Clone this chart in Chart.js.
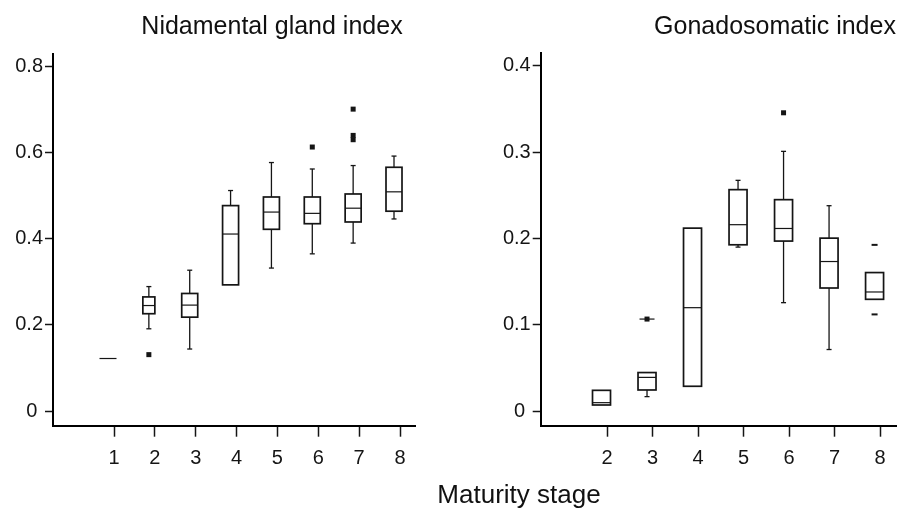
<!DOCTYPE html>
<html>
<head>
<meta charset="utf-8">
<script src="https://cdn.jsdelivr.net/npm/chart.js@4.4.1/dist/chart.umd.min.js"></script>
<style>
  body { margin: 0; background: #fff; }
  #wrap { position: relative; width: 897px; height: 508px; font-family: "Liberation Sans", Arial, sans-serif; color: #111; }
  canvas { position: absolute; top: 0; }
  #ngCanvas { left: 0; width: 450px; height: 508px; }
  #gsiCanvas { left: 450px; width: 447px; height: 508px; }
  .label { position: absolute; font-size: 25px; line-height: 25px; white-space: nowrap; transform: translateX(-50%); }
</style>
</head>
<body>
<div id="wrap">
  <canvas id="ngCanvas" width="450" height="508"></canvas>
  <canvas id="gsiCanvas" width="447" height="508"></canvas>
  <div class="label" style="left:272px; top:13px;">Nidamental gland index</div>
  <div class="label" style="left:775px; top:13px;">Gonadosomatic index</div>
  <div class="label" style="left:519px; top:482px; font-size:26px;">Maturity stage</div>
</div>
<script>
// Nidamental gland index per maturity stage (null = no whisker)
const ngStages = [1, 2, 3, 4, 5, 6, 7, 8];
const ngLow    = [null, 0.191, 0.144, null, 0.332, 0.365, 0.390, 0.446];
const ngQ1     = [0.122, 0.226, 0.218, 0.293, 0.422, 0.435, 0.439, 0.464];
const ngMedian = [0.122, 0.245, 0.246, 0.411, 0.462, 0.459, 0.471, 0.509];
const ngQ3     = [0.122, 0.265, 0.273, 0.477, 0.497, 0.497, 0.504, 0.566];
const ngHigh   = [null, 0.289, 0.327, 0.512, 0.577, 0.562, 0.570, 0.592];
const ngOutliers = [[], [0.131], [], [], [], [0.613], [0.701, 0.640, 0.630], []];
const ngTicks  = [0, 0.2, 0.4, 0.6, 0.8];

// Gonadosomatic index per maturity stage
const gsiStages = [2, 3, 4, 5, 6, 7, 8];
const gsiLow    = [null, 0.0167, null, 0.190, 0.1256, 0.0713, null];
const gsiQ1     = [0.007, 0.0244, 0.0287, 0.1927, 0.197, 0.1426, 0.1295];
const gsiMedian = [0.0097, 0.039, 0.1198, 0.216, 0.2116, 0.1733, 0.138];
const gsiQ3     = [0.024, 0.0446, 0.212, 0.2566, 0.245, 0.2004, 0.1605];
const gsiHigh   = [null, null, null, 0.2674, 0.301, 0.238, null];
const gsiOutliers = [[], [0.1066], [], [], [0.3457], [], [0.1926, 0.112]];
const gsiTicks  = [0, 0.1, 0.2, 0.3, 0.4];

const FONT = '"Liberation Sans", Arial, sans-serif';
const INK = '#151515';

// draws box, whiskers, median and outliers for each stage using the chart scales
function boxPlotPlugin(series, style) {
  return {
    id: 'boxPlot',
    afterDatasetsDraw(chart) {
      const { ctx } = chart;
      const xs = chart.scales.x, ys = chart.scales.y;
      const line = (x1, y1, x2, y2) => {
        ctx.beginPath(); ctx.moveTo(x1, y1); ctx.lineTo(x2, y2); ctx.stroke();
      };
      ctx.save();
      ctx.strokeStyle = INK;
      ctx.fillStyle = INK;
      series.stages.forEach((stage, i) => {
        const width = (style.widths && style.widths[stage]) || style.boxWidth;
        const half = width / 2;
        const cx = xs.getPixelForValue(stage) + style.shift;
        const q1 = ys.getPixelForValue(series.q1[i]);
        const q3 = ys.getPixelForValue(series.q3[i]);
        const med = ys.getPixelForValue(series.median[i]);

        ctx.lineWidth = 1.3;
        if (series.low[i] != null) {
          const lo = ys.getPixelForValue(series.low[i]);
          line(cx, q1, cx, lo);
          line(cx - 2.5, lo, cx + 2.5, lo);
        }
        if (series.high[i] != null) {
          const hi = ys.getPixelForValue(series.high[i]);
          line(cx, q3, cx, hi);
          line(cx - 2.5, hi, cx + 2.5, hi);
        }

        if (q1 - q3 > 0.5) {
          ctx.lineWidth = 1.7;
          ctx.strokeRect(cx - half, q3, width, q1 - q3);
        }
        ctx.lineWidth = 1.2;
        line(cx - half, med, cx + half, med);

        const marker = (style.markers && style.markers[stage]) || 'square';
        series.outliers[i].forEach(v => {
          const py = ys.getPixelForValue(v);
          if (marker === 'dash') {
            ctx.lineWidth = 2;
            line(cx - 3, py, cx + 3, py);
            return;
          }
          if (marker === 'squareDash') {
            ctx.lineWidth = 1.2;
            line(cx - 7.5, py, cx + 7.5, py);
          }
          ctx.fillRect(cx - 2.5, py - 2.5, 5, 5);
        });
      });
      ctx.restore();
    }
  };
}

function makePanel(canvasId, series, yTicks, yMin, yMax, xMin, xMax, padding, yWidth, style) {
  return new Chart(document.getElementById(canvasId), {
    type: 'scatter',
    data: { datasets: [] },
    options: {
      responsive: false,
      animation: false,
      devicePixelRatio: 1,
      layout: { padding: padding },
      plugins: { legend: { display: false }, tooltip: { enabled: false } },
      scales: {
        x: {
          type: 'linear',
          min: xMin,
          max: xMax,
          afterBuildTicks: s => { s.ticks = series.stages.map(v => ({ value: v })); },
          afterFit: s => { s.height = 508 - 425.7 - padding.bottom; },
          grid: { drawOnChartArea: false, tickLength: 11, tickColor: INK, tickWidth: 1.5 },
          border: { display: true, color: '#000', width: 2 },
          ticks: { autoSkip: false, maxRotation: 0, padding: 10, color: INK,
                   font: { family: FONT, size: 20 }, callback: v => String(v) }
        },
        y: {
          type: 'linear',
          min: yMin,
          max: yMax,
          afterBuildTicks: s => { s.ticks = yTicks.map(v => ({ value: v })); },
          afterFit: s => { s.width = yWidth; },
          grid: { drawOnChartArea: false, tickLength: 8, tickColor: INK, tickWidth: 1.5 },
          border: { display: true, color: '#000', width: 2 },
          ticks: { padding: 2, color: INK, font: { family: FONT, size: 20 },
                   callback: v => v === 0 ? '0 ' : v.toFixed(1) }
        }
      }
    },
    plugins: [boxPlotPlugin(series, style)]
  });
}

makePanel('ngCanvas',
  { stages: ngStages, low: ngLow, q1: ngQ1, median: ngMedian, q3: ngQ3, high: ngHigh, outliers: ngOutliers },
  ngTicks, -0.034, 0.829, -0.493, 8.367,
  { left: 0, right: 35, top: 54, bottom: 0 }, 53,
  { boxWidth: 16, shift: -6, widths: { 1: 17, 2: 12 } });

makePanel('gsiCanvas',
  { stages: gsiStages, low: gsiLow, q1: gsiQ1, median: gsiMedian, q3: gsiQ3, high: gsiHigh, outliers: gsiOutliers },
  gsiTicks, -0.017, 0.415, 0.543, 8.35,
  { left: 0, right: 1, top: 53, bottom: 0 }, 90.7,
  { boxWidth: 18, shift: -5.5, markers: { 3: 'squareDash', 8: 'dash' } });
</script>
</body>
</html>
